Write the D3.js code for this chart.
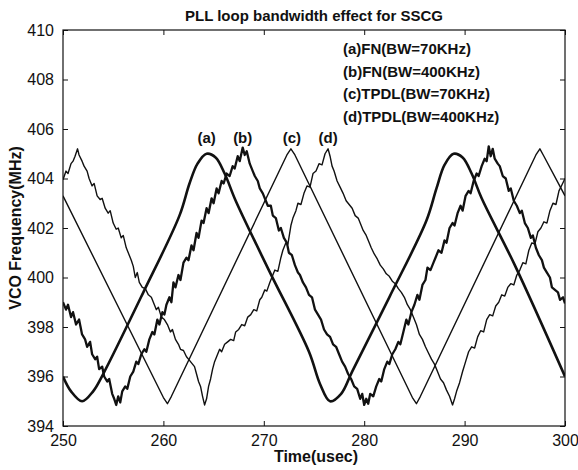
<!DOCTYPE html>
<html>
<head>
<meta charset="utf-8">
<script src="https://cdn.jsdelivr.net/npm/d3@7/dist/d3.min.js"></script>
<style>
  html, body { margin: 0; padding: 0; background: #fff; }
  svg { display: block; }
  text { font-family: "Liberation Sans", Arial, sans-serif; fill: #111; }
</style>
</head>
<body>
<svg id="chart" width="578" height="470"></svg>
<script>
// ---------- data ----------
const title = "PLL loop bandwidth effect for SSCG";
const xLabel = "Time(usec)";
const yLabel = "VCO Frequency(MHz)";
const xTicks = [250, 260, 270, 280, 290, 300];
const yTicks = [394, 396, 398, 400, 402, 404, 406, 408, 410];
const legendLabels = ["(a)FN(BW=70KHz)", "(b)FN(BW=400KHz)", "(c)TPDL(BW=70KHz)", "(d)TPDL(BW=400KHz)"];
const peakLabels = ["(a)", "(b)", "(c)", "(d)"];
const peakTimes = [264.3, 267.9, 272.8, 276.4];

// (a) FN, BW=70KHz : smooth rounded triangle
const seriesA = [
  [250.0, 396.0], [250.8, 395.4], [251.9, 395.0], [253.0, 395.4], [254.0, 396.1],
  [258.0, 399.4], [261.6, 402.5], [262.6, 403.8], [263.4, 404.6], [264.3, 405.0], [265.2, 404.85],
  [266.1, 404.2], [267.2, 403.1], [270.5, 400.3], [274.5, 397.0], [275.6, 395.7], [276.6, 395.0],
  [277.7, 395.3], [278.8, 396.2], [282.5, 399.2], [286.2, 402.3], [287.2, 403.6], [288.0, 404.55],
  [288.9, 405.0], [289.8, 404.85], [290.7, 404.2], [291.7, 403.2], [295.0, 400.5], [300.0, 396.0]
];

// (b) FN, BW=400KHz : noisy triangle
const seriesB = [
  [250.0,399.0],[250.3,398.7],[250.5,398.9],[250.8,398.4],[251.0,398.6],[251.3,398.1],[251.6,398.3],
  [251.9,397.7],[252.2,397.5],[252.4,397.2],[252.7,397.4],[252.9,396.9],[253.2,396.7],[253.4,396.8],
  [253.6,396.3],[253.9,396.4],[254.1,396.0],[254.4,395.8],[254.6,395.9],[254.9,395.3],[255.1,395.1],
  [255.3,394.85],[255.5,395.2],[255.7,394.95],[255.9,395.4],[256.2,395.6],[256.4,395.5],[256.7,396.0],
  [257.0,396.2],[257.3,396.6],[257.5,396.5],[257.8,396.9],[258.1,397.1],[258.3,397.0],[258.6,397.5],
  [258.9,397.8],[259.1,397.7],[259.4,398.3],[259.6,398.1],[259.9,398.6],[260.1,398.5],[260.3,398.9],
  [260.6,399.2],[260.8,399.0],[261.0,399.8],[261.2,399.6],[261.5,400.1],[261.7,399.9],[262.0,400.6],
  [262.3,400.8],[262.5,400.7],[262.8,401.3],[263.0,401.1],[263.3,401.8],[263.5,401.6],[263.8,402.3],
  [264.0,402.2],[264.3,402.8],[264.5,402.6],[264.8,403.2],[265.0,403.0],[265.3,403.6],[265.5,403.4],
  [265.8,403.9],[266.0,403.8],[266.3,404.2],[266.6,404.1],[266.9,404.5],[267.1,404.4],[267.4,404.9],
  [267.6,404.7],[267.9,405.25],[268.1,404.95],[268.3,405.1],[268.6,404.6],[268.9,404.3],[269.1,404.1],
  [269.4,403.9],[269.6,403.6],[269.9,403.4],[270.2,403.1],[270.4,402.9],[270.7,402.9],[270.9,402.5],
  [271.2,402.4],[271.5,401.9],[271.7,402.0],[272.0,401.6],[272.3,401.4],[272.5,401.0],[272.8,400.9],
  [273.1,400.5],[273.4,400.2],[273.6,400.1],[273.9,399.8],[274.2,399.6],[274.5,399.3],[274.8,399.2],
  [275.1,398.7],[275.4,398.5],[275.7,398.3],[276.0,397.9],[276.3,397.7],[276.6,397.6],[276.9,397.3],
  [277.2,397.2],[277.5,396.9],[277.8,396.6],[278.1,396.4],[278.4,396.1],[278.7,395.9],[279.0,395.6],
  [279.3,395.5],[279.6,395.1],[279.8,395.3],[280.0,394.85],[280.2,395.1],[280.4,394.9],[280.6,395.3],
  [280.9,395.2],[281.2,395.6],[281.5,395.9],[281.7,395.8],[282.0,396.3],[282.3,396.6],[282.5,396.5],
  [282.8,396.9],[283.1,397.1],[283.4,397.4],[283.6,397.3],[283.9,397.8],[284.2,398.3],[284.4,398.1],
  [284.7,398.6],[285.0,398.9],[285.3,399.3],[285.5,399.1],[285.8,399.7],[286.1,399.9],[286.3,400.4],
  [286.6,400.3],[286.9,400.6],[287.1,400.8],[287.4,401.1],[287.7,401.0],[288.0,401.5],[288.2,401.4],
  [288.5,402.0],[288.8,402.2],[289.0,402.1],[289.3,402.6],[289.6,402.9],[289.8,402.7],[290.1,403.3],
  [290.4,403.5],[290.6,403.4],[290.9,403.9],[291.2,404.2],[291.4,404.1],[291.7,404.5],[292.0,404.8],
  [292.2,404.7],[292.4,405.3],[292.6,404.9],[292.8,405.2],[293.0,404.8],[293.3,404.6],[293.5,404.5],
  [293.8,404.1],[294.1,404.0],[294.4,403.5],[294.6,403.6],[294.9,403.1],[295.2,402.9],[295.5,402.6],
  [295.7,402.7],[296.0,402.2],[296.3,402.0],[296.6,401.6],[296.8,401.7],[297.1,401.2],[297.4,400.9],
  [297.7,400.7],[297.9,400.4],[298.2,400.2],[298.5,400.0],[298.7,399.6],[299.0,399.5],[299.3,399.4],
  [299.5,399.1],[299.8,399.2],[300.0,398.95]
];

// (c) TPDL, BW=70KHz : clean triangle
const seriesC = [
  [250.0,403.3],[260.0,395.15],[260.4,394.9],[260.8,395.2],[272.3,404.95],[272.7,405.2],[273.1,404.95],
  [284.8,395.15],[285.2,394.9],[285.6,395.2],[297.1,404.95],[297.5,405.2],[297.9,404.9],[300.0,403.3]
];

// (d) TPDL, BW=400KHz : lightly noisy triangle
const seriesD = [
  [250.0,403.95],[250.3,404.3],[250.5,404.2],[250.8,404.6],[251.0,404.7],[251.2,404.9],[251.45,405.2],
  [251.6,404.95],[251.9,404.7],[252.1,404.5],[252.4,404.3],[252.6,404.0],[252.9,403.7],[253.1,403.8],
  [253.4,403.3],[253.7,403.15],[253.9,403.2],[254.2,402.8],[254.5,402.6],[254.7,402.7],[255.0,402.2],
  [255.3,401.95],[255.5,402.0],[255.8,401.6],[256.0,401.7],[256.3,401.2],[256.6,400.9],[256.8,400.7],
  [257.0,400.45],[257.2,400.0],[257.4,400.2],[257.6,399.8],[257.9,399.6],[258.2,399.55],[258.5,399.3],
  [258.8,399.2],[259.0,399.0],[259.3,398.7],[259.5,398.8],[259.8,398.4],[260.1,398.3],[260.4,398.1],
  [260.7,397.8],[260.9,397.9],[261.2,397.5],[261.5,397.3],[261.7,397.1],[262.0,397.05],[262.3,396.8],
  [262.6,396.65],[262.9,396.5],[263.1,396.4],[263.3,396.1],[263.5,395.8],[263.7,395.6],[263.9,395.2],
  [264.1,394.85],[264.3,395.1],[264.5,395.6],[264.7,395.9],[264.9,396.3],[265.1,396.6],[265.3,396.8],
  [265.6,397.1],[265.8,397.0],[266.1,397.3],[266.4,397.4],[266.7,397.5],[267.0,397.45],[267.2,397.8],
  [267.5,397.9],[267.8,398.1],[268.1,398.05],[268.4,398.4],[268.7,398.5],[269.0,398.7],[269.3,398.65],
  [269.6,399.1],[269.8,399.2],[270.1,399.5],[270.3,399.45],[270.6,399.8],[270.9,400.1],[271.1,400.3],
  [271.4,400.25],[271.7,400.8],[271.9,401.1],[272.2,401.4],[272.4,401.35],[272.7,402.1],[272.9,402.4],
  [273.2,402.7],[273.4,403.0],[273.7,402.95],[274.0,403.4],[274.3,403.7],[274.6,403.65],[274.9,404.2],
  [275.2,404.3],[275.5,404.6],[275.8,404.55],[276.1,405.0],[276.4,405.2],[276.6,404.9],[276.8,404.5],
  [277.0,404.3],[277.3,403.9],[277.6,403.65],[277.9,403.4],[278.2,403.1],[278.5,402.95],[278.8,402.8],
  [279.1,402.5],[279.4,402.4],[279.6,402.2],[279.9,401.9],[280.2,401.7],[280.5,401.4],[280.7,401.2],
  [281.0,400.95],[281.3,400.75],[281.6,400.5],[281.9,400.35],[282.2,400.15],[282.5,400.05],[282.8,399.85],
  [283.1,399.75],[283.4,399.55],[283.7,399.4],[284.0,399.2],[284.3,398.9],[284.6,398.7],[284.9,398.4],
  [285.2,398.1],[285.5,397.7],[285.8,397.5],[286.1,397.2],[286.4,396.95],[286.7,396.7],[287.0,396.5],
  [287.3,396.2],[287.6,395.9],[287.9,395.75],[288.2,395.45],[288.5,395.2],[288.8,394.85],[289.0,395.1],
  [289.2,395.4],[289.5,395.75],[289.8,396.2],[290.1,396.6],[290.4,397.0],[290.7,397.2],[291.0,397.15],
  [291.3,397.6],[291.6,397.85],[291.9,397.8],[292.2,398.3],[292.5,398.5],[292.8,398.45],[293.1,398.85],
  [293.4,399.0],[293.7,399.3],[294.0,399.25],[294.3,399.6],[294.6,399.75],[294.9,399.7],[295.2,400.1],
  [295.5,400.3],[295.8,400.6],[296.1,400.55],[296.4,401.1],[296.7,401.4],[297.0,401.35],[297.3,401.85],
  [297.6,402.0],[297.9,402.25],[298.2,402.2],[298.5,402.7],[298.8,403.0],[299.1,402.95],[299.4,403.5],
  [299.7,403.75],[300.0,404.0]
];

// ---------- layout ----------
const svg = d3.select("#chart");
const margin = { left: 63, right: 13, top: 30, bottom: 44 };
const W = 578, H = 470;
const x = d3.scaleLinear().domain([250, 300]).range([margin.left, W - margin.right]);
const y = d3.scaleLinear().domain([394, 410]).range([H - margin.bottom, margin.top]);

svg.append("rect").attr("width", W).attr("height", H).attr("fill", "#fff");

// series
const lineLin = d3.line().x(d => x(d[0])).y(d => y(d[1]));
const lineSmooth = d3.line().x(d => x(d[0])).y(d => y(d[1])).curve(d3.curveCatmullRom.alpha(0.5));

svg.append("clipPath").attr("id", "plotclip").append("rect")
  .attr("x", x(250)).attr("y", y(410)).attr("width", x(300) - x(250)).attr("height", y(394) - y(410));
const plot = svg.append("g").attr("clip-path", "url(#plotclip)");

plot.append("path").datum(seriesC).attr("d", lineLin)
  .attr("fill", "none").attr("stroke", "#111").attr("stroke-width", 1.4).attr("stroke-linejoin", "round");
plot.append("path").datum(seriesD).attr("d", lineLin)
  .attr("fill", "none").attr("stroke", "#111").attr("stroke-width", 1.4).attr("stroke-linejoin", "round");
plot.append("path").datum(seriesB).attr("d", lineLin)
  .attr("fill", "none").attr("stroke", "#111").attr("stroke-width", 2.3).attr("stroke-linejoin", "round");
plot.append("path").datum(seriesA).attr("d", lineSmooth)
  .attr("fill", "none").attr("stroke", "#111").attr("stroke-width", 2.6).attr("stroke-linejoin", "round");

// axes (MATLAB-style, inward ticks on all four sides)
const tickLen = 5;
const fmt = d3.format("d");
svg.append("g").attr("transform", `translate(0,${y(394)})`)
  .call(d3.axisBottom(x).tickValues(xTicks).tickFormat(fmt).tickSizeInner(-tickLen).tickSizeOuter(0).tickPadding(9))
  .call(g => g.select(".domain").remove());
svg.append("g").attr("transform", `translate(0,${y(410)})`)
  .call(d3.axisTop(x).tickValues(xTicks).tickFormat("").tickSizeInner(-tickLen).tickSizeOuter(0))
  .call(g => g.select(".domain").remove());
svg.append("g").attr("transform", `translate(${x(250)},0)`)
  .call(d3.axisLeft(y).tickValues(yTicks).tickFormat(fmt).tickSizeInner(-tickLen).tickSizeOuter(0).tickPadding(9))
  .call(g => g.select(".domain").remove());
svg.append("g").attr("transform", `translate(${x(300)},0)`)
  .call(d3.axisRight(y).tickValues(yTicks).tickFormat("").tickSizeInner(-tickLen).tickSizeOuter(0))
  .call(g => g.select(".domain").remove());

svg.selectAll(".tick line").attr("stroke", "#111").attr("stroke-width", 1);
svg.selectAll(".tick text").attr("font-family", "'Liberation Sans', Arial, sans-serif")
  .attr("font-size", 16).attr("fill", "#111");

// frame
svg.append("rect").attr("x", x(250)).attr("y", y(410))
  .attr("width", x(300) - x(250)).attr("height", y(394) - y(410))
  .attr("fill", "none").attr("stroke", "#111").attr("stroke-width", 1.2);

// title and axis labels
svg.append("text").attr("x", (x(250) + x(300)) / 2).attr("y", 20.5)
  .attr("text-anchor", "middle").attr("font-weight", "bold").attr("font-size", 15).text(title);
svg.append("text").attr("x", (x(250) + x(300)) / 2 + 2).attr("y", 462)
  .attr("text-anchor", "middle").attr("font-weight", "bold").attr("font-size", 16).text(xLabel);
svg.append("text").attr("transform", `translate(21,${(y(394) + y(410)) / 2}) rotate(-90)`)
  .attr("text-anchor", "middle").attr("font-weight", "bold").attr("font-size", 16).text(yLabel);

// legend text
const legendY = [54, 76.5, 99, 121.5];
svg.append("g").selectAll("text").data(legendLabels).join("text")
  .attr("x", 343).attr("y", (d, i) => legendY[i])
  .attr("font-weight", "bold").attr("font-size", 15).text(d => d);

// peak labels
svg.append("g").selectAll("text").data(peakLabels).join("text")
  .attr("x", (d, i) => x(peakTimes[i])).attr("y", 143)
  .attr("text-anchor", "middle").attr("font-weight", "bold").attr("font-size", 15).text(d => d);
</script>
</body>
</html>
